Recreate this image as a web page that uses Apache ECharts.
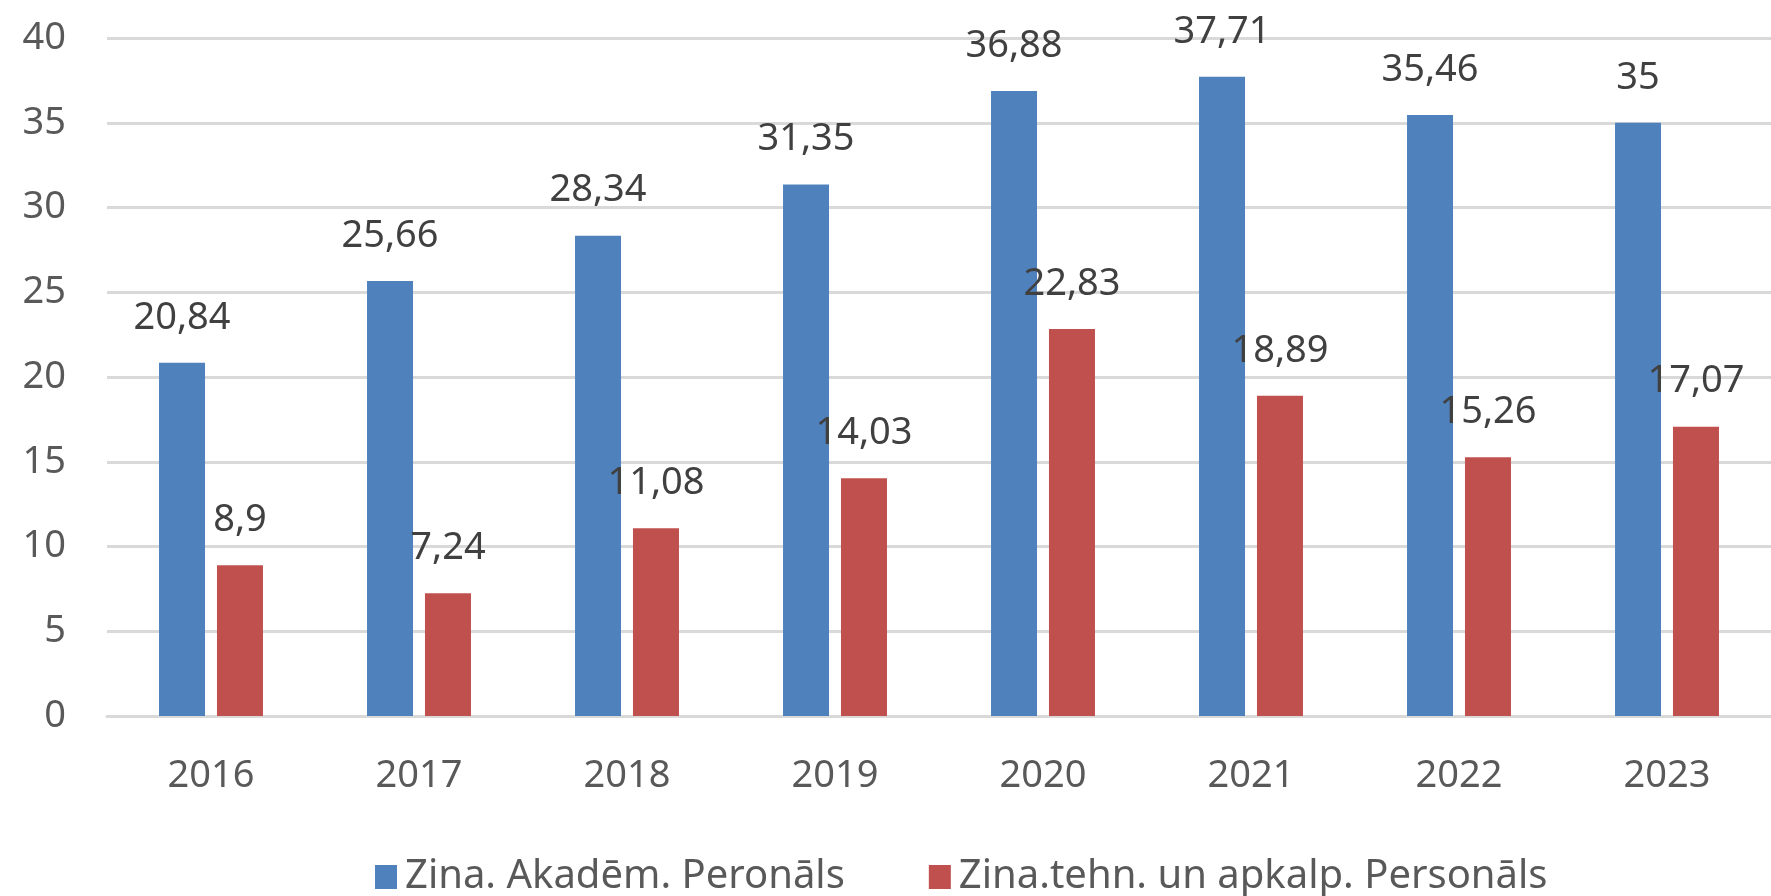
<!DOCTYPE html>
<html>
<head>
<meta charset="utf-8">
<script src="https://cdn.jsdelivr.net/npm/echarts@6/dist/echarts.min.js"></script>
<style>
  html, body { margin: 0; padding: 0; background: #fff; }
  #chart { width: 1771px; height: 896px; }
</style>
</head>
<body>
<div id="chart"></div>
<script>
const years = ["2016", "2017", "2018", "2019", "2020", "2021", "2022", "2023"];
const academic = [20.84, 25.66, 28.34, 31.35, 36.88, 37.71, 35.46, 35];
const technical = [8.9, 7.24, 11.08, 14.03, 22.83, 18.89, 15.26, 17.07];
const seriesNames = ["Zina. Akadēm. Peronāls", "Zina.tehn. un apkalp. Personāls"];

const FONT = "Noto Sans";
const TEXT = "#595959";

// Excel style labels: decimal comma
const fmt = (p) => String(p.value).replace(".", ",");

const chart = echarts.init(document.getElementById("chart"));

const labelStyle = {
  show: true,
  position: "top",
  distance: 26,
  formatter: fmt,
  color: "#404040",
  fontFamily: FONT,
  fontSize: 38,
};

const option = {
  animation: false,
  grid: { left: 107, right: 0, top: 38, bottom: 180, containLabel: false },
  legend: {
    left: 370,
    top: 852,
    itemWidth: 22,
    itemHeight: 24,
    itemGap: 84,
    icon: "rect",
    textStyle: { color: TEXT, fontFamily: FONT, fontSize: 40, padding: [0, 0, 0, 3] },
    data: seriesNames,
  },
  xAxis: {
    type: "category",
    data: years,
    axisLine: { show: true, lineStyle: { color: "#D9D9D9", width: 3 } },
    axisTick: { show: false },
    axisLabel: { color: TEXT, fontFamily: FONT, fontSize: 38, margin: 41 },
  },
  yAxis: {
    type: "value",
    min: 0,
    max: 40,
    interval: 5,
    axisLine: { show: false },
    axisTick: { show: false },
    splitLine: { lineStyle: { color: "#D9D9D9", width: 3 } },
    axisLabel: { color: TEXT, fontFamily: FONT, fontSize: 38, margin: 41 },
  },
  series: [
    {
      name: seriesNames[0],
      type: "bar",
      data: academic,
      barWidth: 46,
      barGap: "26%",
      itemStyle: { color: "#4F81BD" },
      label: labelStyle,
    },
    {
      name: seriesNames[1],
      type: "bar",
      data: technical,
      barWidth: 46,
      itemStyle: { color: "#C0504D" },
      label: labelStyle,
    },
  ],
};

chart.setOption(option);
</script>
</body>
</html>
